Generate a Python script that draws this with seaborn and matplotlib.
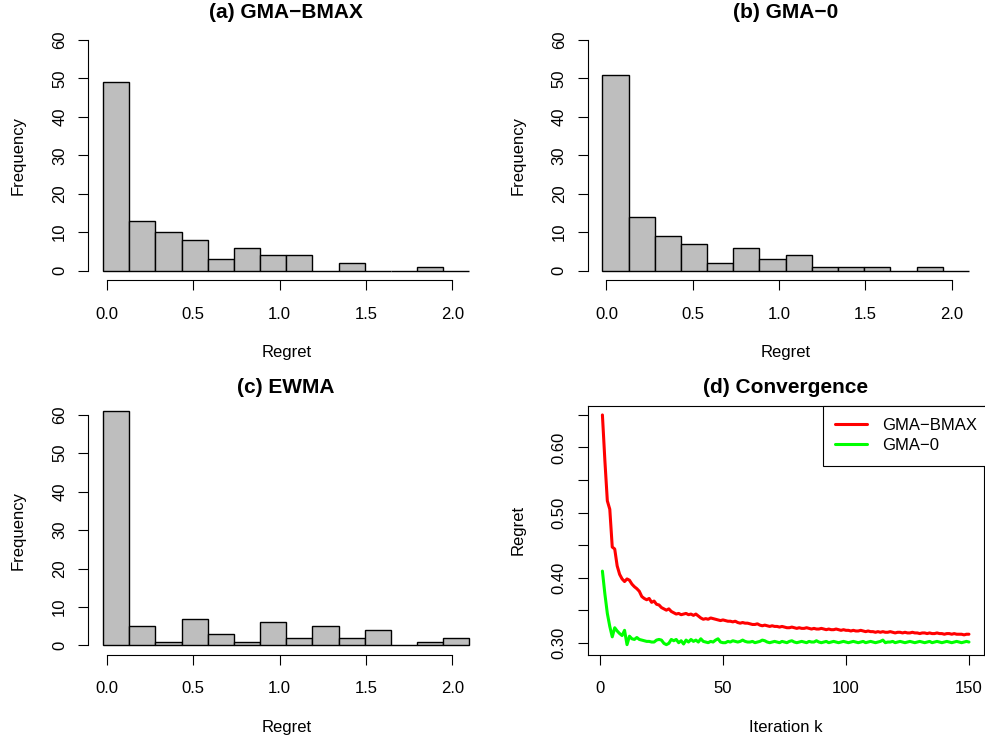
import matplotlib
matplotlib.use("Agg")
import matplotlib.pyplot as plt
import numpy as np
import seaborn as sns

# histogram bins (edges) and counts per method
bin_edges = [-0.023, 0.129, 0.280, 0.432, 0.583, 0.735, 0.886, 1.038,
             1.189, 1.341, 1.493, 1.644, 1.796, 1.947, 2.099]
counts_bmax = [49, 13, 10, 8, 3, 6, 4, 4, 0, 2, 0, 0, 1, 0]
counts_gma0 = [51, 14, 9, 7, 2, 6, 3, 4, 1, 1, 1, 0, 1, 0]
counts_ewma = [61, 5, 1, 7, 3, 1, 6, 2, 5, 2, 4, 0, 1, 2]

hist_titles = ["(a) GMA\u2212BMAX", "(b) GMA\u22120", "(c) EWMA"]
x_ticks = [0.0, 0.5, 1.0, 1.5, 2.0]
y_ticks = [0, 10, 20, 30, 40, 50, 60]

# convergence curves, regret per iteration k = 1..150
regret_bmax = [
    0.650, 0.580, 0.518, 0.505, 0.447, 0.444, 0.418, 0.405, 0.398, 0.394,
    0.398, 0.396, 0.390, 0.386, 0.383, 0.379, 0.371, 0.368, 0.366, 0.368,
    0.362, 0.364, 0.359, 0.358, 0.354, 0.352, 0.350, 0.352, 0.348, 0.346,
    0.344, 0.345, 0.343, 0.344, 0.345, 0.343, 0.344, 0.342, 0.344, 0.341,
    0.338, 0.336, 0.337, 0.336, 0.338, 0.337, 0.336, 0.335, 0.334, 0.335,
    0.334, 0.333, 0.333, 0.332, 0.333, 0.331, 0.330, 0.331, 0.330, 0.330,
    0.329, 0.328, 0.328, 0.329, 0.327, 0.326, 0.327, 0.326, 0.325, 0.326,
    0.325, 0.325, 0.324, 0.325, 0.324, 0.323, 0.323, 0.324, 0.323, 0.322,
    0.323, 0.322, 0.322, 0.323, 0.322, 0.321, 0.322, 0.321, 0.321, 0.322,
    0.321, 0.320, 0.321, 0.320, 0.320, 0.321, 0.320, 0.319, 0.320, 0.319,
    0.319, 0.318, 0.319, 0.318, 0.318, 0.319, 0.318, 0.317, 0.318, 0.317,
    0.317, 0.316, 0.317, 0.316, 0.317, 0.316, 0.316, 0.317, 0.316, 0.315,
    0.316, 0.316, 0.315, 0.316, 0.315, 0.315, 0.316, 0.315, 0.315, 0.314,
    0.315, 0.315, 0.314, 0.315, 0.314, 0.314, 0.315, 0.314, 0.314, 0.313,
    0.314, 0.314, 0.313, 0.314, 0.313, 0.313, 0.313, 0.312, 0.313, 0.313,
]
regret_gma0 = [
    0.410, 0.375, 0.345, 0.325, 0.309, 0.323, 0.318, 0.314, 0.311, 0.319,
    0.297, 0.310, 0.306, 0.305, 0.308, 0.305, 0.304, 0.303, 0.302, 0.302,
    0.301, 0.301, 0.304, 0.305, 0.304, 0.299, 0.297, 0.299, 0.305, 0.303,
    0.305, 0.300, 0.303, 0.298, 0.304, 0.301, 0.305, 0.302, 0.304, 0.301,
    0.306, 0.302, 0.301, 0.300, 0.302, 0.301, 0.304, 0.306, 0.301, 0.300,
    0.300, 0.302, 0.301, 0.303, 0.302, 0.301, 0.302, 0.304, 0.302, 0.301,
    0.301, 0.302, 0.300, 0.301, 0.302, 0.304, 0.303, 0.301, 0.300, 0.301,
    0.302, 0.301, 0.300, 0.302, 0.301, 0.300, 0.302, 0.303, 0.301, 0.300,
    0.301, 0.302, 0.301, 0.300, 0.302, 0.301, 0.301, 0.303, 0.301, 0.300,
    0.301, 0.302, 0.300, 0.301, 0.302, 0.301, 0.300, 0.301, 0.302, 0.301,
    0.300, 0.301, 0.302, 0.301, 0.300, 0.301, 0.302, 0.300, 0.301, 0.302,
    0.301, 0.300, 0.301, 0.302, 0.304, 0.300, 0.301, 0.301, 0.302, 0.300,
    0.301, 0.302, 0.301, 0.300, 0.301, 0.302, 0.301, 0.300, 0.301, 0.302,
    0.301, 0.300, 0.301, 0.302, 0.300, 0.301, 0.302, 0.301, 0.300, 0.301,
    0.302, 0.301, 0.300, 0.301, 0.302, 0.301, 0.300, 0.301, 0.302, 0.301,
]
iterations = list(range(1, 151))
conv_ticks_y = [0.30, 0.35, 0.40, 0.45, 0.50, 0.55, 0.60, 0.65]
conv_ticks_x = [0, 50, 100, 150]

sns.set_style("white")
plt.rcParams["font.family"] = ["Liberation Sans", "DejaVu Sans"]
plt.rcParams["text.color"] = "black"
plt.rcParams["axes.labelcolor"] = "black"
plt.rcParams["xtick.color"] = "black"
plt.rcParams["ytick.color"] = "black"

fig = plt.figure(figsize=(9.85, 7.42), dpi=100)

# axes boxes in figure fractions (R-like 2x2 layout)
col_left = [0.0896, 0.5967]
row_bottom = [0.6228, 0.1177]
w, h = 0.4019, 0.3357

FS = 12
TICK_LEN = 7.2
LW = 0.8


def style_ticks(ax):
    ax.tick_params(axis="both", direction="out", length=TICK_LEN, width=LW,
                   labelsize=FS, colors="black", bottom=True, left=True)
    ax.tick_params(axis="x", pad=12)
    ax.tick_params(axis="y", pad=8)
    for lab in ax.get_yticklabels():
        lab.set_rotation(90)
        lab.set_va("center")


def draw_hist(ax, counts, title):
    mids = [(bin_edges[i] + bin_edges[i + 1]) / 2 for i in range(len(counts))]
    sns.histplot(x=mids, weights=counts, bins=bin_edges, ax=ax,
                 color="#BEBEBE", edgecolor="black", linewidth=1.0, alpha=1)
    ax.set_xlim(-0.108, 2.184)
    ax.set_ylim(-2.4, 62.4)
    ax.set_xticks(x_ticks)
    ax.set_xticklabels([f"{t:.1f}" for t in x_ticks])
    ax.set_yticks(y_ticks)
    ax.set_yticklabels([str(t) for t in y_ticks])
    for s in ["top", "right"]:
        ax.spines[s].set_visible(False)
    ax.spines["left"].set_bounds(0, 60)
    ax.spines["bottom"].set_bounds(0, 2.0)
    for s in ["left", "bottom"]:
        ax.spines[s].set_linewidth(LW)
        ax.spines[s].set_color("black")
    ax.set_title(title, fontsize=15, fontweight="bold", pad=9)
    ax.set_xlabel("Regret", fontsize=FS, labelpad=17)
    ax.set_ylabel("Frequency", fontsize=FS, labelpad=19)
    style_ticks(ax)


ax_a = fig.add_axes([col_left[0], row_bottom[0], w, h])
ax_b = fig.add_axes([col_left[1], row_bottom[0], w, h])
ax_c = fig.add_axes([col_left[0], row_bottom[1], w, h])
ax_d = fig.add_axes([col_left[1], row_bottom[1], w, h])

draw_hist(ax_a, counts_bmax, hist_titles[0])
draw_hist(ax_b, counts_gma0, hist_titles[1])
draw_hist(ax_c, counts_ewma, hist_titles[2])

# convergence panel
sns.lineplot(x=iterations, y=regret_bmax, ax=ax_d, color="#FF0000",
             linewidth=2.2, label="GMA\u2212BMAX")
sns.lineplot(x=iterations, y=regret_gma0, ax=ax_d, color="#00FF00",
             linewidth=2.2, label="GMA\u22120")
ax_d.set_xlim(-4.96, 155.96)
ax_d.set_ylim(0.2816, 0.6644)
ax_d.set_xticks(conv_ticks_x)
ax_d.set_xticklabels([str(t) for t in conv_ticks_x])
ax_d.set_yticks(conv_ticks_y)
ax_d.set_yticklabels([f"{t:.2f}" if i % 2 == 0 else ""
                      for i, t in enumerate(conv_ticks_y)])
for s in ax_d.spines.values():
    s.set_visible(True)
    s.set_linewidth(LW)
    s.set_color("black")
ax_d.set_title("(d) Convergence", fontsize=15, fontweight="bold", pad=9)
ax_d.set_xlabel("Iteration k", fontsize=FS, labelpad=17)
ax_d.set_ylabel("Regret", fontsize=FS, labelpad=19)
style_ticks(ax_d)

leg = ax_d.legend(loc="upper left", bbox_to_anchor=(0.593, 1.0),
                  borderaxespad=0, fontsize=FS, frameon=True, fancybox=False,
                  handlelength=1.9, handletextpad=0.94, borderpad=0.75,
                  labelspacing=0.3)
leg.get_frame().set_edgecolor("black")
leg.get_frame().set_linewidth(LW)
leg.get_frame().set_alpha(1)
leg.set_clip_on(False)

fig.savefig("out.png", dpi=100)
